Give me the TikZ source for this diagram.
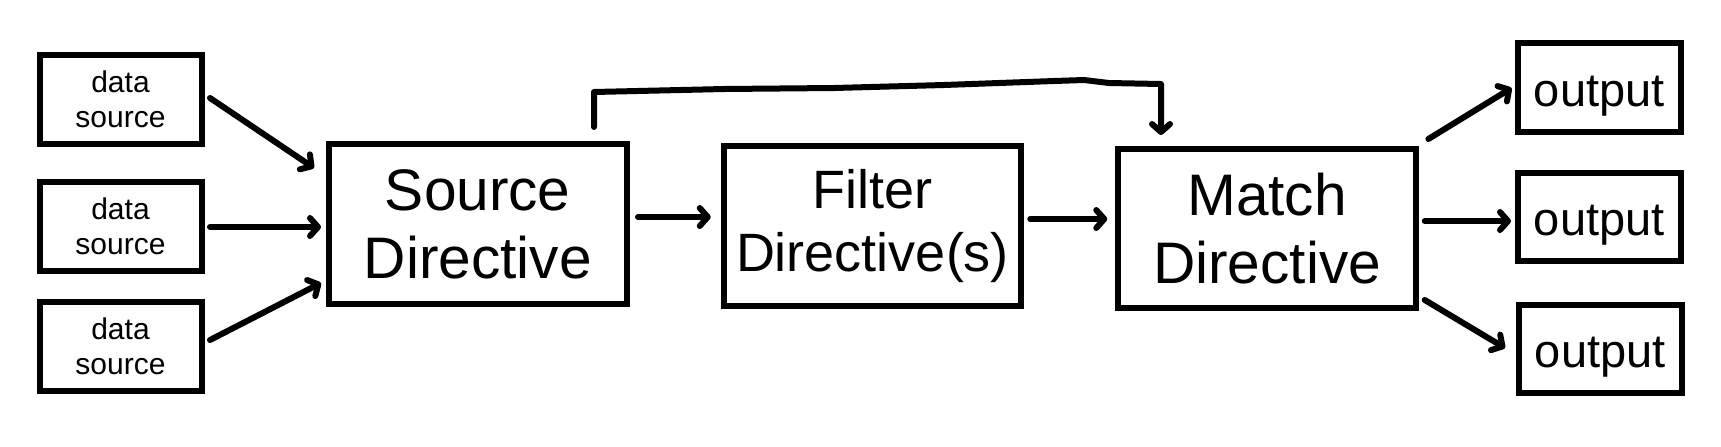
\documentclass[tikz,border=0pt]{standalone}
\usepackage{fontspec}
\setmainfont{Liberation Sans}
\usetikzlibrary{arrows.meta}

\tikzset{
  box/.style={draw,line width=3pt,rectangle,align=center,inner sep=0pt},
  dsbox/.style={box,minimum width=81pt,minimum height=44.5pt,
                font=\fontsize{15}{17.5}\selectfont},
  dirbox/.style={box,minimum width=148.75pt,minimum height=80pt,
                 font=\fontsize{29.3}{34}\selectfont},
  outbox/.style={box,minimum width=81.25pt,minimum height=44.25pt,
                 text height=18.5pt,text depth=0pt,
                 font=\fontsize{23.5}{27}\selectfont},
  arr/.style={line width=3pt,line cap=round,line join=round,
              -{Straight Barb[round,length=4pt,width=9pt]}}
}

\begin{document}
\begin{tikzpicture}[x=0.5pt,y=-0.5pt]

    \useasboundingbox (0,0) rectangle (1721,446);

    \node[dsbox](ds1) at (120.5,99.5) {data\\source};
    \node[dsbox](ds2) at (120.5,226.5) {data\\source};
    \node[dsbox](ds3) at (120.5,346.5) {data\\source};

    \node[dirbox](src) at (477.75,224) {Source\\Directive};
    \node[dirbox,font=\fontsize{27}{31.5}\selectfont](flt) at (872.5,226)
          {Filter\\Directive(s)};
    \node[dirbox,minimum height=79.5pt](mtc) at (1267,228.5) {Match\\Directive};

    \node[outbox](out1) at (1599.25,87.5) {output};
    \node[outbox](out2) at (1599.25,217) {output};
    \node[outbox](out3) at (1600.3,349) {output};

    % sources in
    \draw[arr] ([shift={(5.5,-1.5)}]ds1.east) -- ([shift={(-12,27)}]src.north west);
    \draw[arr] ([shift={(5.5,0.5)}]ds2.east) -- ([shift={(-5,3)}]src.west);
    \draw[arr] ([shift={(5.5,-6.5)}]ds3.east) -- ([shift={(-5,-24)}]src.south west);

    % main chain
    \draw[arr] ([shift={(8.5,-7)}]src.east) -- ([shift={(-10,-9)}]flt.west);
    \draw[arr] ([shift={(6,-7)}]flt.east) -- ([shift={(-8,-9.5)}]mtc.west);
    \draw[arr] ([shift={(116.25,-14)}]src.north) -- ++(0,-35) -- ++(130,-3)
        -- ++(110,-1) -- ++(110,-3) -- ++(110,-4) -- ++(30,-1)
        -- ++(25,3) -- ++(52,1) -- ([shift={(-106,-11)}]mtc.north);

    % outputs
    \draw[arr] ([shift={(9.6,-7)}]mtc.north east) -- ([shift={(-3.4,0.5)}]out1.west);
    \draw[arr] ([shift={(6,-7.5)}]mtc.east) -- ([shift={(-4,4)}]out2.west);
    \draw[arr] ([shift={(6,-11)}]mtc.south east) -- ([shift={(-11,-1)}]out3.west);

\end{tikzpicture}
\end{document}
